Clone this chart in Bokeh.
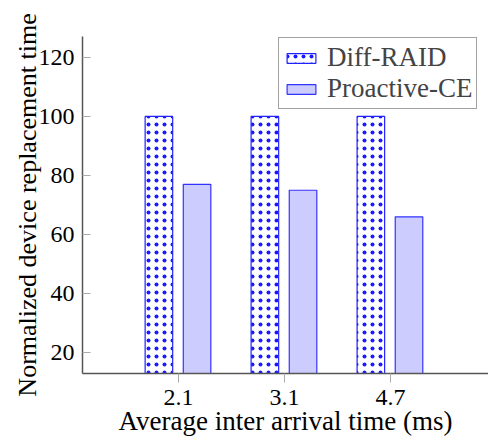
from bokeh.plotting import figure
from bokeh.models import ColumnDataSource, Range1d, FixedTicker, Legend, LegendItem
from bokeh.transform import dodge
from bokeh.embed import file_html
from bokeh.resources import INLINE

categories = ["2.1", "3.1", "4.7"]
diff_raid = [100, 100, 100]
proactive_ce = [77, 75, 66]

FONT = "'Liberation Serif', serif"

source = ColumnDataSource(data=dict(
    x=list(range(len(categories))),
    diff=diff_raid,
    pro=proactive_ce,
))

p = figure(width=488, height=438, output_backend="svg", toolbar_location=None,
           x_range=Range1d(-0.906, 2.925), y_range=Range1d(12.9, 127.1),
           min_border_left=82, min_border_top=36, min_border_right=0, min_border_bottom=65)
p.outline_line_color = None
p.xgrid.visible = False
p.ygrid.visible = False

r1 = p.vbar(x=dodge("x", -0.185, range=p.x_range), top="diff", bottom=0, width=0.26, source=source,
            fill_color="white", line_color="#2222ff", line_width=1.2,
            hatch_pattern="dot", hatch_color="#1a1aff", hatch_scale=8, hatch_weight=1)
r2 = p.vbar(x=dodge("x", 0.175, range=p.x_range), top="pro", bottom=0, width=0.26, source=source,
            fill_color="#ccccff", line_color="#3333ff", line_width=1.2)

p.xaxis.ticker = FixedTicker(ticks=list(range(len(categories))))
p.xaxis.major_label_overrides = {i: c for i, c in enumerate(categories)}
p.yaxis.ticker = FixedTicker(ticks=[20, 40, 60, 80, 100, 120])

for ax in (p.xaxis[0], p.yaxis[0]):
    ax.axis_line_color = "#555555"
    ax.axis_line_width = 1.5
    ax.major_tick_line_color = "#aaaaaa"
    ax.major_tick_line_width = 1
    ax.minor_tick_line_color = None
    ax.major_label_text_font = FONT
    ax.major_label_text_font_size = "24px"
    ax.major_label_text_color = "black"
    ax.axis_label_text_font = FONT
    ax.axis_label_text_font_style = "normal"
    ax.axis_label_text_color = "black"

p.xaxis.axis_label_text_font_size = "27px"
p.yaxis.axis_label_text_font_size = "26px"

p.xaxis.major_tick_in = 0
p.xaxis.major_tick_out = 9
p.xaxis.major_label_standoff = 7
p.xaxis.axis_label_standoff = -2
p.yaxis.major_tick_in = 8
p.yaxis.major_tick_out = 0
p.yaxis.major_label_standoff = 8
p.yaxis.axis_label_standoff = -6

p.xaxis.axis_label = "Average inter arrival time (ms)"
p.yaxis.axis_label = "Normalized device replacement time"

legend = Legend(items=[LegendItem(label="Diff-RAID", renderers=[r1]),
                       LegendItem(label="Proactive-CE", renderers=[r2])],
                location=(196, 264))
legend.label_text_font = FONT
legend.label_text_font_size = "27px"
legend.glyph_width = 36
legend.glyph_height = 12
legend.border_line_color = "#444444"
legend.border_line_width = 1.5
legend.padding = 4
legend.spacing = 0
legend.label_standoff = 8
legend.margin = 0
p.add_layout(legend, "center")

open("out.html", "w").write(file_html(p, INLINE))
